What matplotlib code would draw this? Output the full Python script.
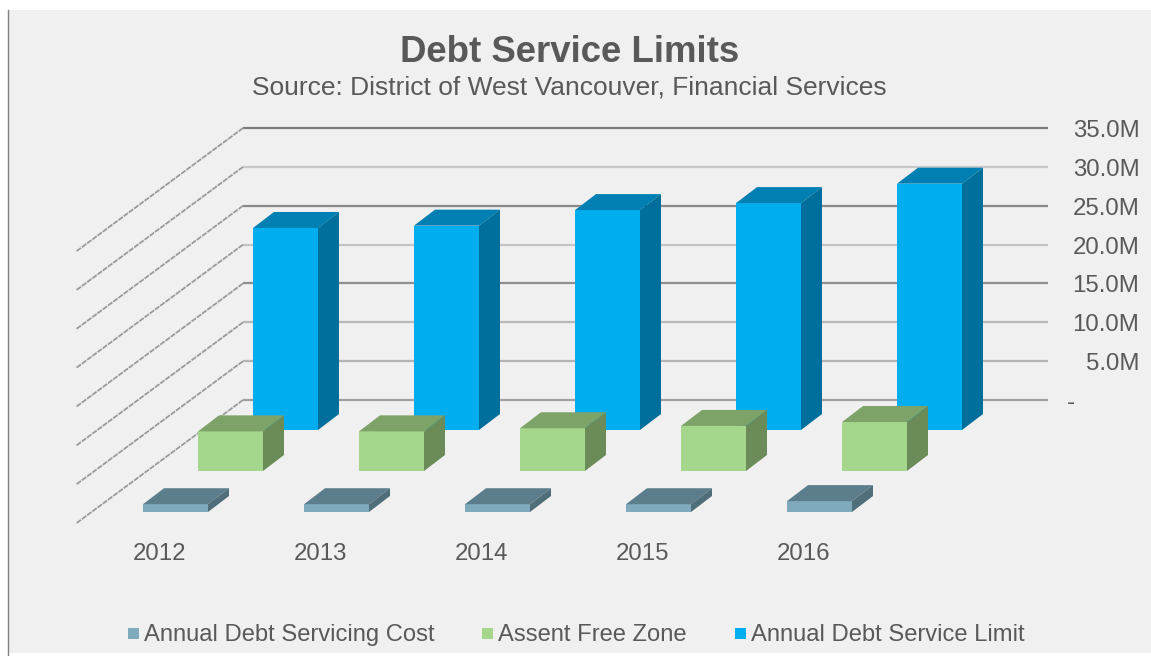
import matplotlib
matplotlib.use("Agg")
import matplotlib.pyplot as plt
from matplotlib.patches import Polygon, Rectangle

plt.rcParams['font.family'] = ['Liberation Sans', 'DejaVu Sans']

years = ["2012", "2013", "2014", "2015", "2016"]
ticks = [0, 5, 10, 15, 20, 25, 30, 35]
tick_labels = ["-", "5.0M", "10.0M", "15.0M", "20.0M", "25.0M", "30.0M", "35.0M"]

debt_cost = [1.0, 1.0, 1.0, 1.0, 1.4]
assent_free = [5.1, 5.1, 5.5, 5.8, 6.3]
debt_limit = [26.0, 26.3, 28.3, 29.2, 31.7]

text_col = "#595959"

# floor is sheared, so everything goes through here to get pixels
px_per_m = 7.77
cat_step = 161
depth_dx = 55
depth_dy = 41
bar_w = 65
top_dx = 21
top_dy = 16


def front(cat, row, val):
    x = 143 + cat * cat_step + row * depth_dx
    y = 512 - row * depth_dy - val * px_per_m
    return x, y


def draw_bar(ax, cat, row, val, cols, z):
    x0, y0 = front(cat, row, 0)
    x1, y1 = front(cat, row, val)
    face, top, side = cols
    ax.add_patch(Rectangle((x0, y1), bar_w, y0 - y1, fc=face, ec="none", zorder=z))
    ax.add_patch(Polygon([(x0, y1), (x0 + top_dx, y1 - top_dy),
                          (x0 + bar_w + top_dx, y1 - top_dy), (x0 + bar_w, y1)],
                         fc=top, ec="none", zorder=z))
    ax.add_patch(Polygon([(x0 + bar_w, y1), (x0 + bar_w + top_dx, y1 - top_dy),
                          (x0 + bar_w + top_dx, y0 - top_dy), (x0 + bar_w, y0)],
                         fc=side, ec="none", zorder=z))


fig = plt.figure(figsize=(11.51, 6.56), dpi=100, facecolor="white")
ax = fig.add_axes([0, 0, 1, 1])
ax.set_xlim(0, 1151)
ax.set_ylim(656, 0)
ax.axis("off")

ax.add_patch(Rectangle((8, 10), 1143, 643, fc="#f0f0f0", ec="none", zorder=0))
ax.plot([8, 8], [10, 656], color="#808080", lw=1.0, zorder=1)

# walls
grid_cols = ["#a0a0a0", "#b4b4b4", "#b8b8b8", "#8f8f8f", "#c4c4c4", "#8a8a8a", "#c8c8c8", "#7a7a7a"]
for t, lab, c in zip(ticks, tick_labels, grid_cols):
    y = 400 - t * px_per_m
    ax.plot([243, 1048], [y, y], color=c, lw=1.6, solid_capstyle="butt", zorder=1)
    ax.plot([243, 76], [y, y + 123.5], color="#9a9a9a", lw=1.3, ls=(0, (3, 0.6)), zorder=1)
    ax.text(1139.5 if t else 1075, y + 3, lab, ha="right", va="center", fontsize=17.3, color=text_col)

limit_cols = ("#00aeef", "#0080b2", "#006f9b")
free_cols = ("#a4d78b", "#7ea368", "#6b8c59")
cost_cols = ("#7faabb", "#5c7e8c", "#4f6e7a")

# back row first
for i in range(len(years)):
    draw_bar(ax, i, 2, debt_limit[i], limit_cols, 3)
    draw_bar(ax, i, 1, assent_free[i], free_cols, 4)
    draw_bar(ax, i, 0, debt_cost[i], cost_cols, 5)
    ax.text(front(i, 0, 0)[0] + 16.5, 554, years[i], ha="center", va="center",
            fontsize=17.3, color=text_col)

ax.text(569.5, 53, "Debt Service Limits", ha="center", va="center", fontsize=26.4,
        fontweight="bold", color=text_col)
ax.text(569.5, 87, "Source: District of West Vancouver, Financial Services", ha="center",
        va="center", fontsize=19, color=text_col)

# legend
legend_names = ["Annual Debt Servicing Cost", "Assent Free Zone", "Annual Debt Service Limit"]
legend_cols = [cost_cols[0], free_cols[0], limit_cols[0]]
legend_x = [128, 482, 735]
for name, c, x in zip(legend_names, legend_cols, legend_x):
    ax.add_patch(Rectangle((x, 628), 11, 11, fc=c, ec="none"))
    ax.text(x + 16, 635, name, ha="left", va="center", fontsize=17.1, color=text_col)

fig.savefig("out.png", dpi=100, facecolor="white")
